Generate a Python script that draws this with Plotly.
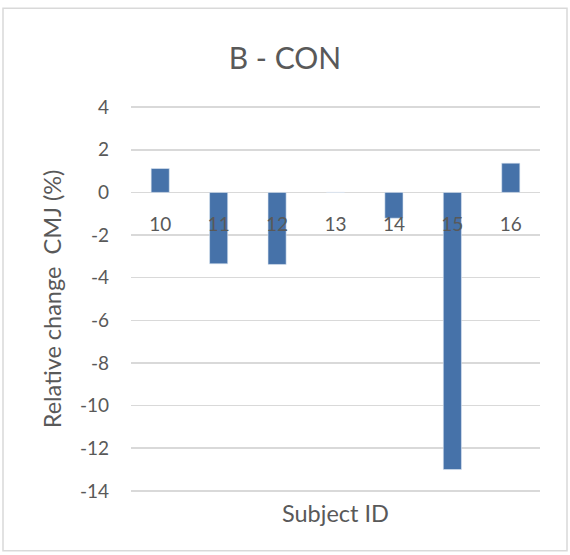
import plotly.graph_objects as go

subjects = ["10", "11", "12", "13", "14", "15", "16"]
rel_change = [1.12, -3.35, -3.38, 0.0, -1.21, -13.0, 1.37]
y_ticks = [4, 2, 0, -2, -4, -6, -8, -10, -12, -14]

FONT = "Lato"
TXT = "#595959"

# plot area geometry (px): y=4 at 107, y=-14 at 491, x from 131 to 540
PAD = 0.1
PX_PER_UNIT = 384 / 18
pad_px = PAD * PX_PER_UNIT
top = 107 - pad_px
bottom = 491 + pad_px
ph = bottom - top

fig = go.Figure(
    go.Bar(
        x=subjects,
        y=rel_change,
        marker=dict(color="#4672a9", line=dict(color="#dce6f2", width=0.6)),
        width=0.31,
        hoverinfo="skip",
    )
)

fig.update_layout(
    width=570,
    height=555,
    margin=dict(l=131, r=30, t=top, b=555 - bottom),
    paper_bgcolor="white",
    plot_bgcolor="white",
    showlegend=False,
    title=dict(
        text="B - CON",
        x=(285 - 131) / (540 - 131),
        xref="paper",
        xanchor="center",
        y=1 - 58 / 555,
        yref="container",
        yanchor="middle",
        font=dict(family=FONT, size=30, color=TXT),
    ),
    font=dict(family=FONT, color=TXT),
)

fig.update_xaxes(
    type="category",
    anchor="free",
    position=(bottom - 192) / ph,
    showgrid=False,
    showline=False,
    ticks="",
    ticklabelstandoff=19,
    tickfont=dict(family=FONT, size=19, color=TXT),
    fixedrange=True,
)

fig.update_yaxes(
    range=[-14 - PAD, 4 + PAD],
    tickvals=y_ticks,
    ticktext=[str(v) for v in y_ticks],
    showgrid=True,
    gridcolor="#d9d9d9",
    gridwidth=1.5,
    zeroline=True,
    zerolinecolor="#d9d9d9",
    zerolinewidth=1.5,
    showline=False,
    ticks="",
    ticklabelstandoff=21,
    tickfont=dict(family=FONT, size=19, color=TXT),
    title=dict(
        text="Relative change  CMJ (%)",
        font=dict(family=FONT, size=23.5, color=TXT),
        standoff=11,
    ),
    fixedrange=True,
)

fig.add_annotation(
    text="Subject ID",
    xref="paper",
    yref="paper",
    x=0.5,
    y=0,
    yanchor="middle",
    yshift=-(513 - bottom),
    showarrow=False,
    font=dict(family=FONT, size=23.5, color=TXT),
)

fig.add_shape(
    type="rect",
    xref="paper",
    yref="paper",
    x0=(3 - 131) / 409,
    x1=(567 - 131) / 409,
    y0=-(551 - bottom) / ph,
    y1=1 + (top - 8) / ph,
    line=dict(color="#d9d9d9", width=1.5),
    fillcolor="rgba(0,0,0,0)",
    layer="below",
)

fig.write_html(
    "out.html",
    config={"displayModeBar": False, "staticPlot": True},
    post_script="document.body.style.margin='0';document.body.style.padding='0';",
)
